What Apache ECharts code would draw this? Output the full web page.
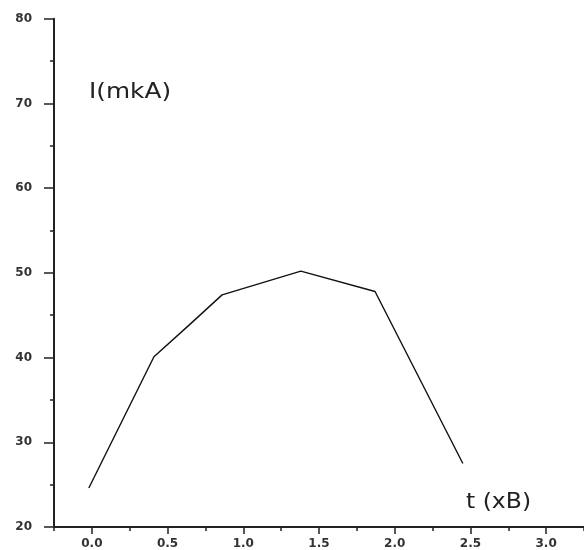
<!DOCTYPE html>
<html>
<head>
<meta charset="utf-8">
<script src="https://cdn.jsdelivr.net/npm/echarts@6/dist/echarts.min.js"></script>
<style>html,body{margin:0;padding:0;background:#fff}#c{width:584px;height:550px}</style>
</head>
<body>
<div id="c"></div>
<script>
// Data
const tValues = [-0.02, 0.41, 0.64, 0.86, 1.38, 1.87, 2.45];
const iValues = [24.6, 40.1, 43.8, 47.4, 50.2, 47.8, 27.5];
const xTickValues = [0, 0.5, 1.0, 1.5, 2.0, 2.5, 3.0];
const xTickLabels = ['0.0', '0.5', '1.0', '1.5', '2.0', '2.5', '3.0'];
const xMinorTickValues = [-0.25, 0.25, 0.75, 1.25, 1.75, 2.25, 2.75, 3.25];
const yTickLabels = ['20', '30', '40', '50', '60', '70', '80'];
const yAxisTitle = 'I(mkA)';
const xAxisTitle = 't (xB)';

const chart = echarts.init(document.getElementById('c'));
const lblFont = { fontFamily: 'DejaVu Sans', fontSize: 12, fontWeight: 'bold', color: '#333' };
const axisLine = { show: true, onZero: false, lineStyle: { color: '#222', width: 2 } };
const gridBox = { left: 54, top: 18.7, width: 536.7, height: 508.3 };

chart.setOption({
  animation: false,
  backgroundColor: '#fff',
  grid: gridBox,
  xAxis: [{
    type: 'value', min: -0.25, max: 3.25,
    axisLine: axisLine,
    splitLine: { show: false },
    axisTick: { show: true, inside: false, length: 7, customValues: xTickValues, lineStyle: { color: '#222', width: 1.5 } },
    axisLabel: Object.assign({ margin: 11, customValues: xTickValues,
      formatter: v => { const k = xTickValues.findIndex(x => Math.abs(x - v) < 1e-6); return k >= 0 ? xTickLabels[k] : ''; } }, lblFont)
  }, {
    type: 'value', min: -0.25, max: 3.25, position: 'bottom',
    axisLine: { show: false, onZero: false },
    splitLine: { show: false },
    axisTick: { show: true, length: 4, customValues: xMinorTickValues, lineStyle: { color: '#222', width: 1.5 } },
    axisLabel: { show: false }
  }],
  yAxis: {
    type: 'value', min: 20, max: 80, interval: 10,
    axisLine: axisLine,
    splitLine: { show: false },
    axisTick: { show: true, length: 10, lineStyle: { color: '#222', width: 1.5 } },
    minorTick: { show: true, splitNumber: 2, length: 4, lineStyle: { color: '#222', width: 1.5 } },
    axisLabel: Object.assign({ margin: 22,
      formatter: v => yTickLabels[Math.round((v - 20) / 10)] || '' }, lblFont)
  },
  graphic: [
    { type: 'text', x: 89, y: 82, scaleX: 1.18, style: { text: yAxisTitle, fontFamily: 'DejaVu Sans', fontSize: 21, fill: '#222' } },
    { type: 'text', x: 466, y: 492, scaleX: 1.12, style: { text: xAxisTitle, fontFamily: 'DejaVu Sans', fontSize: 21, fill: '#222' } }
  ],
  series: [{
    type: 'line',
    xAxisIndex: 0,
    data: tValues.map((t, i) => [t, iValues[i]]),
    showSymbol: false,
    lineStyle: { color: '#111', width: 1.4 },
    clip: false
  }]
});
</script>
</body>
</html>
